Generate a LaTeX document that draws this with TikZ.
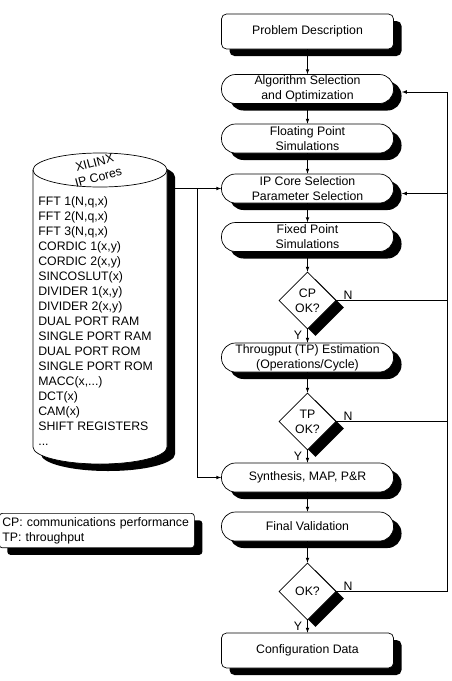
\documentclass[tikz,border=0pt]{standalone}
\usepackage{fontspec}
\setmainfont{Liberation Sans}
\usepackage{tikz}
\usetikzlibrary{shapes,shadows,arrows}

\begin{document}
\begin{tikzpicture}[x=1pt,y=1pt,>=latex,line width=0.7pt,
	font=\fontsize{12.3}{15}\selectfont,
	dshadow/.style={drop shadow={shadow xshift=8pt,shadow yshift=-7pt,fill=black,opacity=1}},
	term/.style={draw,fill=white,dshadow,rounded corners=5pt,minimum width=172pt,minimum height=35pt,inner sep=2pt},
	proc/.style={draw,fill=white,dshadow,rounded corners=14pt,minimum width=172pt,minimum height=29pt,inner sep=1pt,align=center},
	test/.style={draw,fill=white,dshadow,diamond,minimum width=57pt,minimum height=57pt,inner sep=0pt,align=center},
	lbl/.style={inner sep=1pt}]
\useasboundingbox (0,0) rectangle (451,-681);
% main flow
\node[term] (prob) at (307.5,-31.5) {Problem Description};
\node[proc] (alg) at (307.5,-89) {Algorithm Selection\\and Optimization};
\node[proc] (flt) at (307.5,-138.5) {Floating Point\\Simulations};
\node[proc] (ip) at (307.5,-188.5) {IP Core Selection\\Parameter Selection};
\node[proc] (fix) at (307.5,-237) {Fixed Point\\Simulations};
\node[test] (cp) at (307.5,-300.5) {CP\\OK?};
\node[proc] (tpe) at (307.5,-357.5) {Througput (TP) Estimation\\(Operations/Cycle)};
\node[test] (tp) at (307.5,-421.5) {TP\\OK?};
\node[proc] (syn) at (307.5,-477.5) {Synthesis, MAP, P\&R};
\node[proc] (fin) at (307.5,-526.5) {Final Validation};
\node[test] (ok) at (307.5,-591.5) {OK?};
\node[term] (cfg) at (307.5,-650.5) {Configuration Data};
\draw[->] (prob.south) -- (alg.north);
\draw[->] (alg.south) -- (flt.north);
\draw[->] (flt.south) -- (ip.north);
\draw[->] (ip.south) -- (fix.north);
\draw[->] (fix.south) -- (cp.north);
\draw[->] (cp.south) -- (tpe.north);
\draw[->] (tpe.south) -- (tp.north);
\draw[->] (tp.south) -- (syn.north);
\draw[->] (syn.south) -- (fin.north);
\draw[->] (fin.south) -- (ok.north);
\draw[->] (ok.south) -- (cfg.north);
% Y / N labels
\node[lbl,anchor=north east] (cpy) at ([xshift=-4pt]cp.south) {Y};
\node[lbl,anchor=south west] (cpn) at ([xshift=6pt]cp.east) {N};
\node[lbl,anchor=north east] (tpy) at ([xshift=-4pt]tp.south) {Y};
\node[lbl,anchor=south west] (tpn) at ([xshift=6pt]tp.east) {N};
\node[lbl,anchor=north east] (oky) at ([xshift=-4pt]ok.south) {Y};
\node[lbl,anchor=south west] (okn) at ([xshift=6pt]ok.east) {N};
% feedback
\coordinate (back) at (447,0);
\coordinate (algin) at ([shift={(8,-3)}]alg.east);
\coordinate (ipin) at ([shift={(8,-5)}]ip.east);
\draw (cp.east) -- (cp.east -| back);
\draw (tp.east) -- (tp.east -| back);
\draw[->] (ok.east) -| (back |- algin) -- (algin);
\draw[->] (back |- ipin) -- (ipin);
% core library (cylinder)
\fill[black] (41,-177) -- (41,-454) arc[start angle=180,end angle=360,x radius=67,y radius=17]
	-- (175,-177) arc[start angle=0,end angle=180,x radius=67,y radius=17] -- cycle;
\draw[fill=white] (33,-170) -- (33,-447) arc[start angle=180,end angle=360,x radius=67,y radius=17]
	-- (167,-170) arc[start angle=0,end angle=180,x radius=67,y radius=17] -- cycle;
\draw (33,-170) arc[start angle=180,end angle=360,x radius=67,y radius=17];
\node[lbl,rotate=15,align=center] (libname) at (96.5,-170) {XILINX\\IP Cores};
\node[anchor=north west,align=left,inner sep=0pt] (cores) at (38,-196) {FFT 1(N,q,x)\\FFT 2(N,q,x)\\FFT 3(N,q,x)\\CORDIC 1(x,y)\\CORDIC 2(x,y)\\SINCOSLUT(x)\\DIVIDER 1(x,y)\\DIVIDER 2(x,y)\\DUAL PORT RAM\\SINGLE PORT RAM\\DUAL PORT ROM\\SINGLE PORT ROM\\MACC(x,...)\\DCT(x)\\CAM(x)\\SHIFT REGISTERS\\...};
\coordinate (libout) at (175,0);
\coordinate (split) at (197,0);
\draw[->] (libout |- ip.west) -- (ip.west);
\draw[->] (split |- ip.west) |- (syn.west);
% legend
\node[draw,fill=white,dshadow,rounded corners=3pt,anchor=north west,align=left,text width=189pt,inner xsep=3pt,inner ysep=4pt] (key) at (-1,-513) {CP: communications performance\\TP: throughput};
\end{tikzpicture}
\end{document}
